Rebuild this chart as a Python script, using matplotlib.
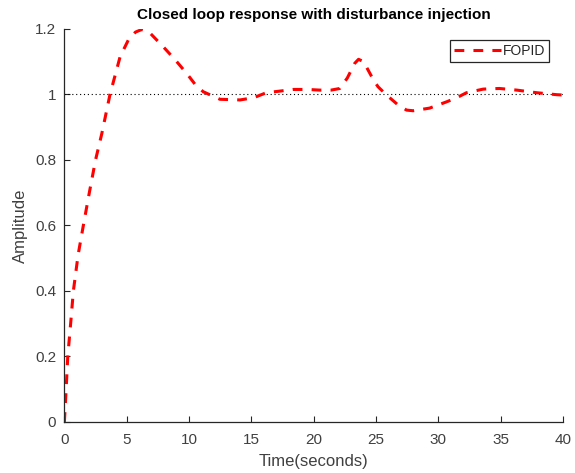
import matplotlib.pyplot as plt
import numpy as np

# closed loop step response of the FOPID loop, disturbance injected near t=22 s
t = [0, 0.14, 0.27, 0.5, 0.72, 1.1, 1.52, 2.0, 2.5, 3.0, 3.66, 4.47, 5.13, 5.7,
     6.2, 6.8, 7.94, 8.9, 9.81, 10.5, 11.14, 12.48, 14.1, 15.2, 16.2, 17.3,
     18.36, 19.5, 20.5, 21.4, 22.1, 22.7, 23.3, 23.6, 24.0, 24.8, 25.17, 25.85,
     26.7, 27.45, 27.98, 29.3, 30.65, 31.5, 32.26, 33.6, 34.9, 36.3, 37.9,
     39.5, 40]
y = [0, 0.1, 0.2, 0.3, 0.4, 0.51, 0.6, 0.7, 0.8, 0.88, 1.0, 1.115, 1.166, 1.19,
     1.198, 1.19, 1.145, 1.105, 1.064, 1.03, 1.008, 0.985, 0.983, 0.99, 1.005,
     1.01, 1.015, 1.015, 1.013, 1.013, 1.018, 1.05, 1.095, 1.107, 1.1, 1.044,
     1.023, 0.998, 0.97, 0.952, 0.95, 0.958, 0.977, 0.99, 1.005, 1.016, 1.018,
     1.013, 1.005, 0.999, 0.998]
setpoint = 1.0
xticks = [0, 5, 10, 15, 20, 25, 30, 35, 40]
yticks = [0, 0.2, 0.4, 0.6, 0.8, 1, 1.2]
yticklabels = ['0', '0.2', '0.4', '0.6', '0.8', '1', '1.2']

plt.rcParams['font.family'] = ['Liberation Sans', 'DejaVu Sans']
grey = '#404040'

fig = plt.figure(figsize=(5.75, 4.73), dpi=100)
ax = fig.add_axes([0.112, 0.108, 0.867, 0.831])

ax.plot([0, 40], [setpoint, setpoint], color='k', linestyle=(0, (1, 2.5)), lw=0.8)
ax.plot(t, y, color='red', lw=2.2, linestyle=(0, (3.2, 3.0)), label='FOPID')

ax.set_xlim(0, 40)
ax.set_ylim(0, 1.2)
ax.set_xticks(xticks)
ax.set_yticks(yticks)
ax.set_yticklabels(yticklabels)
ax.spines['top'].set_visible(False)
ax.spines['right'].set_visible(False)
for s in ['left', 'bottom']:
    ax.spines[s].set_color('#262626')
    ax.spines[s].set_linewidth(0.9)
ax.tick_params(direction='in', length=4, width=0.8, color='#262626',
               labelcolor=grey, labelsize=11)
ax.tick_params(axis='x', pad=8)
ax.tick_params(axis='y', pad=6)

ax.set_title('Closed loop response with disturbance injection',
             fontsize=11, fontweight='bold', pad=7)
ax.set_xlabel('Time(seconds)', fontsize=12, color=grey, labelpad=5)
ax.set_ylabel('Amplitude', fontsize=12, color=grey, labelpad=5)

leg = ax.legend(loc='upper right', bbox_to_anchor=(0.972, 0.972), fontsize=10,
                fancybox=False, framealpha=1, edgecolor='#262626',
                borderaxespad=0, handlelength=3.4, borderpad=0.3,
                handletextpad=0.1)
leg.get_frame().set_linewidth(0.9)
for txt in leg.get_texts():
    txt.set_color('#262626')

fig.savefig('out.png', dpi=100)
